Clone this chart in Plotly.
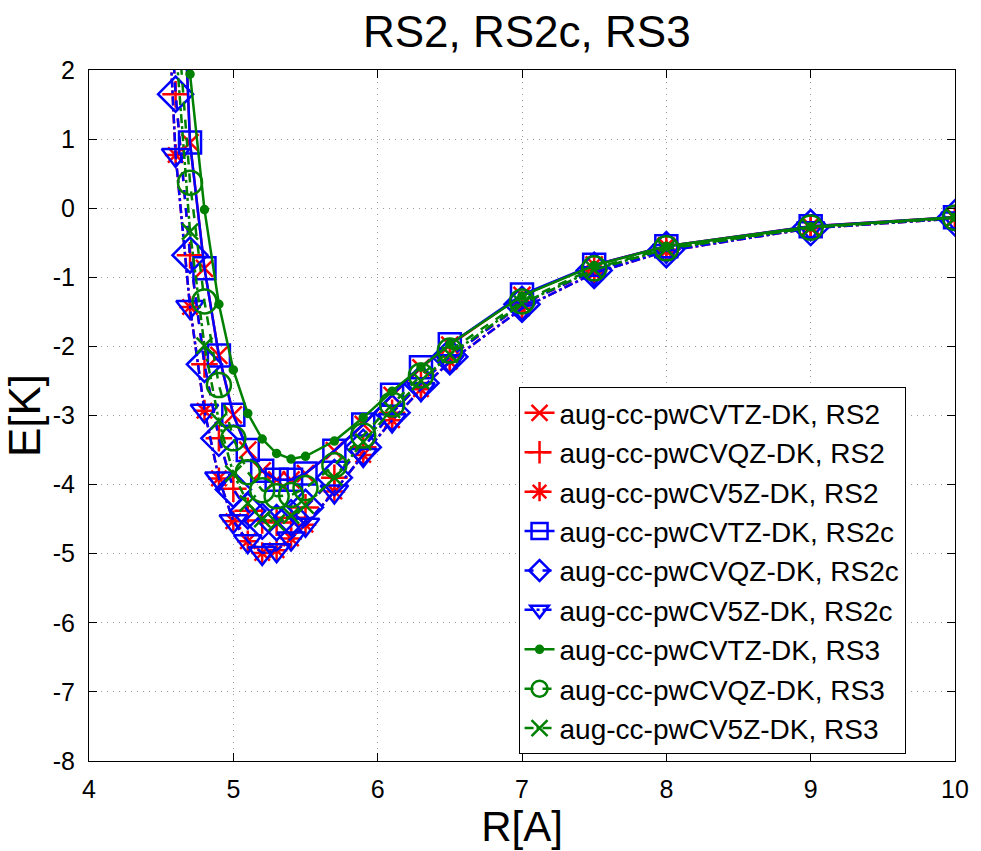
import plotly.graph_objects as go

R = [4.5, 4.6, 4.7, 4.8, 4.9, 5.0, 5.1, 5.2, 5.3, 5.4, 5.5, 5.7, 5.9, 6.1, 6.3, 6.5, 7.0, 7.5, 8.0, 9.0, 10.0]

rs2_tz  = [None, 6.0, 0.95, -0.87, -2.13, -2.99, -3.50, -3.80, -3.93, -3.93, -3.84, -3.51, -3.13, -2.71, -2.31, -1.98, -1.26, -0.82, -0.55, -0.26, -0.13]
rs2_qz  = [5.2, 1.65, -0.68, -2.26, -3.33, -4.06, -4.38, -4.52, -4.55, -4.48, -4.33, -3.90, -3.46, -2.96, -2.53, -2.15, -1.39, -0.90, -0.60, -0.28, -0.14]
rs2_5z  = [5.0, 0.77, -1.43, -2.93, -3.91, -4.53, -4.82, -4.99, -4.95, -4.78, -4.58, -4.10, -3.57, -3.07, -2.62, -2.22, -1.45, -0.94, -0.62, -0.29, -0.15]
rs2c_tz = [None, 6.0, 0.95, -0.87, -2.13, -2.99, -3.50, -3.80, -3.93, -3.93, -3.84, -3.51, -3.13, -2.70, -2.30, -1.97, -1.25, -0.82, -0.55, -0.26, -0.13]
rs2c_qz = [5.2, 1.65, -0.68, -2.26, -3.33, -4.07, -4.38, -4.53, -4.55, -4.48, -4.33, -3.90, -3.46, -2.96, -2.53, -2.15, -1.39, -0.90, -0.60, -0.28, -0.14]
rs2c_5z = [5.0, 0.77, -1.43, -2.93, -3.91, -4.53, -4.82, -4.99, -4.95, -4.78, -4.58, -4.10, -3.57, -3.07, -2.62, -2.22, -1.45, -0.94, -0.62, -0.29, -0.15]
rs3_tz  = [None, 5.0, 1.94, -0.02, -1.39, -2.34, -2.97, -3.34, -3.55, -3.63, -3.59, -3.37, -3.03, -2.65, -2.30, -1.97, -1.27, -0.83, -0.55, -0.27, -0.13]
rs3_qz  = [None, 3.1, 0.37, -1.35, -2.56, -3.33, -3.82, -4.08, -4.17, -4.15, -4.05, -3.72, -3.29, -2.84, -2.42, -2.06, -1.35, -0.87, -0.58, -0.28, -0.14]
rs3_5z  = [None, 2.4, -0.34, -1.99, -3.08, -3.84, -4.27, -4.50, -4.55, -4.45, -4.30, -3.90, -3.38, -2.92, -2.50, -2.12, -1.38, -0.89, -0.59, -0.28, -0.14]

labels = [
    "aug-cc-pwCVTZ-DK, RS2", "aug-cc-pwCVQZ-DK, RS2", "aug-cc-pwCV5Z-DK, RS2",
    "aug-cc-pwCVTZ-DK, RS2c", "aug-cc-pwCVQZ-DK, RS2c", "aug-cc-pwCV5Z-DK, RS2c",
    "aug-cc-pwCVTZ-DK, RS3", "aug-cc-pwCVQZ-DK, RS3", "aug-cc-pwCV5Z-DK, RS3",
]
series = [rs2_tz, rs2_qz, rs2_5z, rs2c_tz, rs2c_qz, rs2c_5z, rs3_tz, rs3_qz, rs3_5z]

x_ticks = [4, 5, 6, 7, 8, 9, 10]
x_ticktext = ["4", "5", "6", "7", "8", "9", "10"]
y_ticks = [-8, -7, -6, -5, -4, -3, -2, -1, 0, 1, 2]
y_ticktext = ["-8", "-7", "-6", "-5", "-4", "-3", "-2", "-1", "0", "1", "2"]

RED, BLUE, GREEN = "#ff0000", "#0000ff", "#008000"
styles = [
    (RED, "solid", "x-thin-open", 17),
    (RED, "dash", "cross-thin-open", 19),
    (RED, "dashdot", "asterisk-open", 18),
    (BLUE, "solid", "square-open", 22),
    (BLUE, "dash", "diamond-open", 27),
    (BLUE, "dashdot", "triangle-down-open", 24),
    (GREEN, "solid", "circle", 7),
    (GREEN, "dash", "circle-open", 24),
    (GREEN, "dashdot", "x-thin-open", 16),
]

fig = go.Figure()
for lab, ys, (col, dash, sym, sz) in zip(labels, series, styles):
    fig.add_trace(go.Scatter(
        x=R, y=ys, name=lab, mode="lines+markers",
        line=dict(color=col, width=2.5, dash=dash),
        marker=dict(symbol=sym, size=sz, color=col, line=dict(color=col, width=2.5)),
        connectgaps=False,
    ))

FONT = "Liberation Sans, Arial"
axis_common = dict(
    showline=True, linecolor="black", linewidth=1, mirror="ticks",
    ticks="inside", ticklen=8, tickcolor="black",
    showgrid=True, gridcolor="#9a9a9a", gridwidth=1, griddash="1px,5px",
    zeroline=False,
    tickfont=dict(family=FONT, size=25, color="black"),
)

fig.update_layout(
    width=981, height=851,
    paper_bgcolor="white", plot_bgcolor="white",
    margin=dict(l=89, r=15, t=70, b=79),
    title=dict(text="RS2, RS2c, RS3", x=0.537, xanchor="center", y=0.963, yanchor="middle",
               font=dict(family=FONT, size=44, color="black")),
    xaxis=dict(range=[4, 10], tickmode="array", tickvals=x_ticks, ticktext=x_ticktext,
               ticklabelstandoff=6,
               title=dict(text="R[A]", standoff=7, font=dict(family=FONT, size=42, color="black")),
               **axis_common),
    yaxis=dict(range=[-8, 2], tickmode="array", tickvals=y_ticks, ticktext=y_ticktext,
               ticklabelstandoff=8,
               title=dict(text="E[K]", standoff=2, font=dict(family=FONT, size=44, color="black")),
               **axis_common),
    legend=dict(x=0.496, y=0.541, xanchor="left", yanchor="top",
                bgcolor="white", bordercolor="black", borderwidth=1,
                font=dict(family=FONT, size=28, color="black"),
                entrywidth=430, entrywidthmode="pixels",
                tracegroupgap=0),
    showlegend=True,
)

fig.write_html("out.html")
